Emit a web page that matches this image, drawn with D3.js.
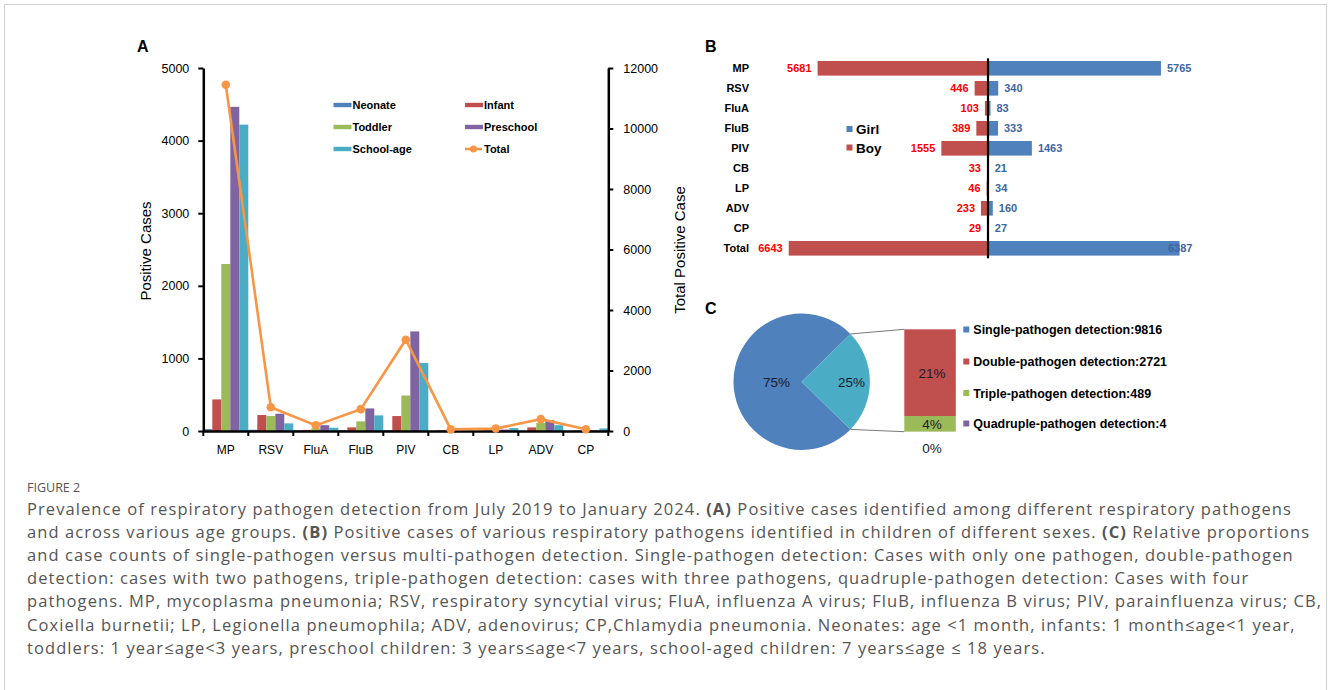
<!DOCTYPE html>
<html>
<head>
<meta charset="utf-8">
<script src="https://cdn.jsdelivr.net/npm/d3@7"></script>
<style>
  body { margin: 0; background: #fff; }
  svg { display: block; }
  .ax text { font-family: Arial, "Liberation Sans", sans-serif; fill: #000; }
</style>
</head>
<body>
<div id="chart"></div>
<script>
// ---- data ----
const pathogens = ["MP", "RSV", "FluA", "FluB", "PIV", "CB", "LP", "ADV", "CP"];
const ageGroups = ["Neonate", "Infant", "Toddler", "Preschool", "School-age"];
const neonate   = [26, 17, 10, 13, 13, 2, 2, 3, 1];
const infant    = [435, 220, 15, 50, 206, 10, 6, 50, 5];
const toddler   = [2300, 206, 35, 133, 489, 12, 12, 110, 5];
const preschool = [4465, 238, 80, 311, 1372, 15, 20, 150, 10];
const schoolAge = [4220, 105, 45, 215, 938, 15, 40, 80, 35];
const totalCases = [11446, 786, 186, 722, 3018, 54, 80, 393, 56];
const leftTicks = [0, 1000, 2000, 3000, 4000, 5000];
const rightTicks = [0, 2000, 4000, 6000, 8000, 10000, 12000];

const sexCategories = ["MP", "RSV", "FluA", "FluB", "PIV", "CB", "LP", "ADV", "CP", "Total"];
const boys  = [5681, 446, 103, 389, 1555, 33, 46, 233, 29, 6643];
const girls = [5765, 340, 83, 333, 1463, 21, 34, 160, 27, 6387];

const detectionTypes = ["Single-pathogen detection", "Double-pathogen detection",
                        "Triple-pathogen detection", "Quadruple-pathogen detection"];
const detectionCounts = [9816, 2721, 489, 4];

const captionLines = [
  [["Prevalence of respiratory pathogen detection from July 2019 to January 2024. ", 0], ["(A)", 1], [" Positive cases identified among different respiratory pathogens", 0]],
  [["and across various age groups. ", 0], ["(B)", 1], [" Positive cases of various respiratory pathogens identified in children of different sexes. ", 0], ["(C)", 1], [" Relative proportions", 0]],
  [["and case counts of single-pathogen versus multi-pathogen detection. Single-pathogen detection: Cases with only one pathogen, double-pathogen", 0]],
  [["detection: cases with two pathogens, triple-pathogen detection: cases with three pathogens, quadruple-pathogen detection: Cases with four", 0]],
  [["pathogens. MP, mycoplasma pneumonia; RSV, respiratory syncytial virus; FluA, influenza A virus; FluB, influenza B virus; PIV, parainfluenza virus; CB,", 0]],
  [["Coxiella burnetii; LP, Legionella pneumophila; ADV, adenovirus; CP,Chlamydia pneumonia. Neonates: age <1 month, infants: 1 month\u2264age<1 year,", 0]],
  [["toddlers: 1 year\u2264age<3 years, preschool children: 3 years\u2264age<7 years, school-aged children: 7 years\u2264age \u2264 18 years.", 0]]
];

const ageColors = ["#4F81BD", "#C0504D", "#9BBB59", "#8064A2", "#4BACC6"];
const totalColor = "#F79646";
const FONT = "Arial, 'Liberation Sans', sans-serif";

const width = 1328, height = 690;
const svg = d3.select("#chart").append("svg")
  .attr("width", width).attr("height", height);

svg.append("rect").attr("x", 4.5).attr("y", 4.5)
  .attr("width", 1322).attr("height", 700)
  .attr("fill", "#fff").attr("stroke", "#d0d0d0");

// ================= Panel A =================
const ageSeries = [neonate, infant, toddler, preschool, schoolAge];
const xA = d3.scaleBand().domain(pathogens).range([203.3, 608.3]).padding(0);
const xSub = d3.scaleBand().domain(ageGroups).range([0, xA.bandwidth()]).padding(0);
const yA = d3.scaleLinear().domain([0, 5000]).range([431, 68]);
const yTot = d3.scaleLinear().domain([0, 12000]).range([431, 68]);

svg.append("text").attr("x", 137).attr("y", 52)
  .attr("font-family", FONT).attr("font-weight", "bold").attr("font-size", 16).text("A");

const gBars = svg.append("g");
ageGroups.forEach((g, gi) => {
  gBars.selectAll(null).data(pathogens).enter().append("rect")
    .attr("x", d => xA(d) + xSub(g))
    .attr("width", xSub.bandwidth())
    .attr("y", (d, i) => yA(ageSeries[gi][i]))
    .attr("height", (d, i) => yA(0) - yA(ageSeries[gi][i]))
    .attr("fill", ageColors[gi]);
});

// axes
const fmt = d3.format("d");
const axL = svg.append("g").attr("class", "ax").attr("transform", `translate(${xA.range()[0]},0)`)
  .call(d3.axisLeft(yA).tickValues(leftTicks).tickFormat(fmt).tickSize(5).tickPadding(9).tickSizeOuter(0));
const axR = svg.append("g").attr("class", "ax").attr("transform", `translate(${xA.range()[1]},0)`)
  .call(d3.axisRight(yTot).tickValues(rightTicks).tickFormat(fmt).tickSize(5).tickPadding(10).tickSizeOuter(0));
const axB = svg.append("g").attr("class", "ax").attr("transform", `translate(0,${yA(0)})`)
  .call(d3.axisBottom(xA).tickSize(0).tickPadding(14).tickSizeOuter(0));
[axL, axR].forEach(a => {
  a.selectAll("text").attr("font-size", 12.5);
  a.select(".domain").attr("stroke-width", 2.5);
  a.selectAll(".tick line").attr("stroke-width", 2);
});
axB.selectAll("text").attr("font-size", 12);
axB.select(".domain").attr("stroke-width", 2.5);
// category boundary ticks on x axis
svg.append("g").selectAll("line")
  .data(pathogens.map(d => xA(d)).concat([xA.range()[1]]))
  .enter().append("line")
  .attr("x1", d => d).attr("x2", d => d)
  .attr("y1", yA(0)).attr("y2", yA(0) + 5)
  .attr("stroke", "#000").attr("stroke-width", 2);

svg.append("text").attr("transform", "translate(151,251) rotate(-90)")
  .attr("text-anchor", "middle").attr("font-family", FONT).attr("font-size", 15)
  .text("Positive Cases");
svg.append("text").attr("transform", "translate(685,250) rotate(-90)")
  .attr("text-anchor", "middle").attr("font-family", FONT).attr("font-size", 15)
  .text("Total Positive Case");

// total line
const line = d3.line()
  .x((d, i) => xA(pathogens[i]) + xA.bandwidth() / 2)
  .y(d => yTot(d));
svg.append("path").datum(totalCases).attr("d", line)
  .attr("fill", "none").attr("stroke", totalColor).attr("stroke-width", 2.6);
svg.append("g").selectAll("circle").data(totalCases).enter().append("circle")
  .attr("cx", (d, i) => xA(pathogens[i]) + xA.bandwidth() / 2)
  .attr("cy", d => yTot(d)).attr("r", 4.3).attr("fill", totalColor);

// legend A
const legA = svg.append("g").attr("font-family", FONT).attr("font-weight", "bold").attr("font-size", 11);
const legItems = ageGroups.concat(["Total"]);
legItems.forEach((name, i) => {
  const col = i % 2, row = Math.floor(i / 2);
  const lx = 333.5 + col * 131.5, ly = 105 + row * 22;
  if (name === "Total") {
    legA.append("line").attr("x1", lx).attr("x2", lx + 17).attr("y1", ly).attr("y2", ly)
      .attr("stroke", totalColor).attr("stroke-width", 2.6);
    legA.append("circle").attr("cx", lx + 8.5).attr("cy", ly).attr("r", 3.5).attr("fill", totalColor);
  } else {
    legA.append("rect").attr("x", lx).attr("y", ly - 2.2).attr("width", 18).attr("height", 4.4)
      .attr("fill", ageColors[i]);
  }
  legA.append("text").attr("x", lx + 19).attr("y", ly + 4).text(name);
});

// ================= Panel B =================
const xB = d3.scaleLinear().domain([-7000, 7000]).range([778, 1198]);
const yB = d3.scaleBand().domain(sexCategories).range([58.3, 258.3])
  .paddingInner(0.27).paddingOuter(0.135);

svg.append("text").attr("x", 705).attr("y", 52)
  .attr("font-family", FONT).attr("font-weight", "bold").attr("font-size", 16).text("B");

const gB = svg.append("g").attr("font-family", FONT).attr("font-weight", "bold").attr("font-size", 11);
gB.selectAll(".boy").data(boys).enter().append("rect")
  .attr("x", d => xB(-d)).attr("width", d => xB(0) - xB(-d))
  .attr("y", (d, i) => yB(sexCategories[i])).attr("height", yB.bandwidth())
  .attr("fill", "#C0504D");
gB.selectAll(".girl").data(girls).enter().append("rect")
  .attr("x", xB(0)).attr("width", d => xB(d) - xB(0))
  .attr("y", (d, i) => yB(sexCategories[i])).attr("height", yB.bandwidth())
  .attr("fill", "#4F81BD");
gB.selectAll(".cat").data(sexCategories).enter().append("text")
  .attr("x", 749).attr("y", d => yB(d) + yB.bandwidth() / 2).attr("dy", "0.36em")
  .attr("text-anchor", "end").attr("fill", "#000").text(d => d);
gB.selectAll(".bl").data(boys).enter().append("text")
  .attr("x", d => xB(-d) - 6).attr("y", (d, i) => yB(sexCategories[i]) + yB.bandwidth() / 2)
  .attr("dy", "0.36em").attr("text-anchor", "end").attr("fill", "#FF0000").text(d => d);
gB.selectAll(".gl").data(girls).enter().append("text")
  .attr("x", d => Math.min(xB(d) + 6, xB(6000))).attr("y", (d, i) => yB(sexCategories[i]) + yB.bandwidth() / 2)
  .attr("dy", "0.36em").attr("fill", "#3E66A0").text(d => d);
svg.append("line").attr("x1", xB(0)).attr("x2", xB(0))
  .attr("y1", yB.range()[0]).attr("y2", yB.range()[1])
  .attr("stroke", "#000").attr("stroke-width", 2.2);

const legB = svg.append("g").attr("font-family", FONT).attr("font-weight", "bold").attr("font-size", 13.5);
[["Girl", "#4F81BD"], ["Boy", "#C0504D"]].forEach((d, i) => {
  const ly = 129 + i * 18.5;
  legB.append("rect").attr("x", 846.5).attr("y", ly - 3).attr("width", 6).attr("height", 6).attr("fill", d[1]);
  legB.append("text").attr("x", 856).attr("y", ly + 5).text(d[0]);
});

// ================= Panel C =================
svg.append("text").attr("x", 705).attr("y", 314)
  .attr("font-family", FONT).attr("font-weight", "bold").attr("font-size", 16).text("C");

const allCases = d3.sum(detectionCounts);
const multiCases = d3.sum(detectionCounts.slice(1));
const multiShare = multiCases / allCases;
const half = multiShare * Math.PI;
const cx = 801.7, cy = 381.7, r = 68.2;
const pie = d3.pie().sort(null)
  .startAngle(Math.PI / 2 + half).endAngle(Math.PI / 2 + half + 2 * Math.PI);
const arcs = pie([detectionCounts[0], multiCases]);
const arc = d3.arc().innerRadius(0).outerRadius(r);
const gC = svg.append("g").attr("transform", `translate(${cx},${cy})`);
gC.selectAll("path").data(arcs).enter().append("path")
  .attr("d", arc).attr("fill", (d, i) => i === 0 ? "#4F81BD" : "#4BACC6");
const pct = v => Math.round(v / allCases * 100) + "%";
gC.selectAll("text").data(arcs).enter().append("text")
  .attr("transform", (d, i) => {
    const a = (d.startAngle + d.endAngle) / 2;
    const rr = i === 0 ? r * 0.37 : r * 0.73;
    return `translate(${Math.sin(a) * rr},${-Math.cos(a) * rr})`;
  })
  .attr("text-anchor", "middle").attr("dy", "0.36em")
  .attr("font-family", FONT).attr("font-size", 13.5).attr("fill", "#1a1a2a")
  .text(d => pct(d.value));

// bar of pie
const barX0 = 904.3, barW = 51.5;
const yC = d3.scaleLinear().domain([0, multiCases]).range([431.7, 329.3]);
const stackOrder = [3, 2, 1]; // bottom to top: quadruple, triple, double
const stackColors = { 1: "#C0504D", 2: "#9BBB59", 3: "#8064A2" };
let acc = 0;
const segs = stackOrder.map(k => { const s = { k, y0: acc, y1: acc + detectionCounts[k] }; acc += detectionCounts[k]; return s; });
svg.append("g").selectAll("rect").data(segs).enter().append("rect")
  .attr("x", barX0).attr("width", barW)
  .attr("y", d => yC(d.y1)).attr("height", d => yC(d.y0) - yC(d.y1))
  .attr("fill", d => stackColors[d.k]);
svg.append("g").selectAll("text").data(segs).enter().append("text")
  .attr("x", barX0 + barW / 2 + 2)
  .attr("y", d => d.k === 3 ? yC(0) + 16 : (yC(d.y0) + yC(d.y1)) / 2)
  .attr("dy", "0.36em").attr("text-anchor", "middle")
  .attr("font-family", FONT).attr("font-size", 13.5).attr("fill", "#1a1a2a")
  .text(d => pct(detectionCounts[d.k]));

// connectors
const pUp = [cx + Math.sin(Math.PI / 2 - half) * r, cy - Math.cos(Math.PI / 2 - half) * r];
const pDn = [cx + Math.sin(Math.PI / 2 + half) * r, cy - Math.cos(Math.PI / 2 + half) * r];
svg.append("line").attr("x1", pUp[0]).attr("y1", pUp[1]).attr("x2", barX0).attr("y2", yC(multiCases))
  .attr("stroke", "#555").attr("stroke-width", 0.8);
svg.append("line").attr("x1", pDn[0]).attr("y1", pDn[1]).attr("x2", barX0).attr("y2", yC(0))
  .attr("stroke", "#555").attr("stroke-width", 0.8);

// legend C
const cColors = ["#4F81BD", "#C0504D", "#9BBB59", "#8064A2"];
const legC = svg.append("g").attr("font-family", FONT).attr("font-weight", "bold").attr("font-size", 12.5);
detectionTypes.forEach((t, i) => {
  const ly = [329.5, 361.5, 393, 423.5][i];
  legC.append("rect").attr("x", 963.3).attr("y", ly - 3).attr("width", 6).attr("height", 6).attr("fill", cColors[i]);
  legC.append("text").attr("x", 973.3).attr("y", ly + 4.5).text(t + ":" + detectionCounts[i]);
});

// ================= Caption =================
const CAPFONT = "'Open Sans', 'Noto Sans', sans-serif";
svg.append("text").attr("x", 27).attr("y", 492)
  .attr("font-family", CAPFONT).attr("font-size", 12.5).attr("fill", "#555").text("FIGURE 2");
const capG = svg.append("g").attr("font-family", CAPFONT).attr("fill", "#555");
const capTexts = captionLines.map((parts, i) => {
  const t = capG.append("text").attr("x", 27).attr("y", 514.5 + i * 23.2).attr("font-size", 16.5);
  parts.forEach(p => t.append("tspan").attr("font-weight", p[1] ? "bold" : null).text(p[0]));
  return t;
});
// small extra letter spacing so the first line spans the same width as the reference
const w0 = capTexts[0].node().getComputedTextLength();
const n0 = captionLines[0].map(p => p[0]).join("").length;
const ls = Math.max(0, (1265 - w0) / n0);
capTexts.forEach(t => t.attr("letter-spacing", ls));
</script>
</body>
</html>
